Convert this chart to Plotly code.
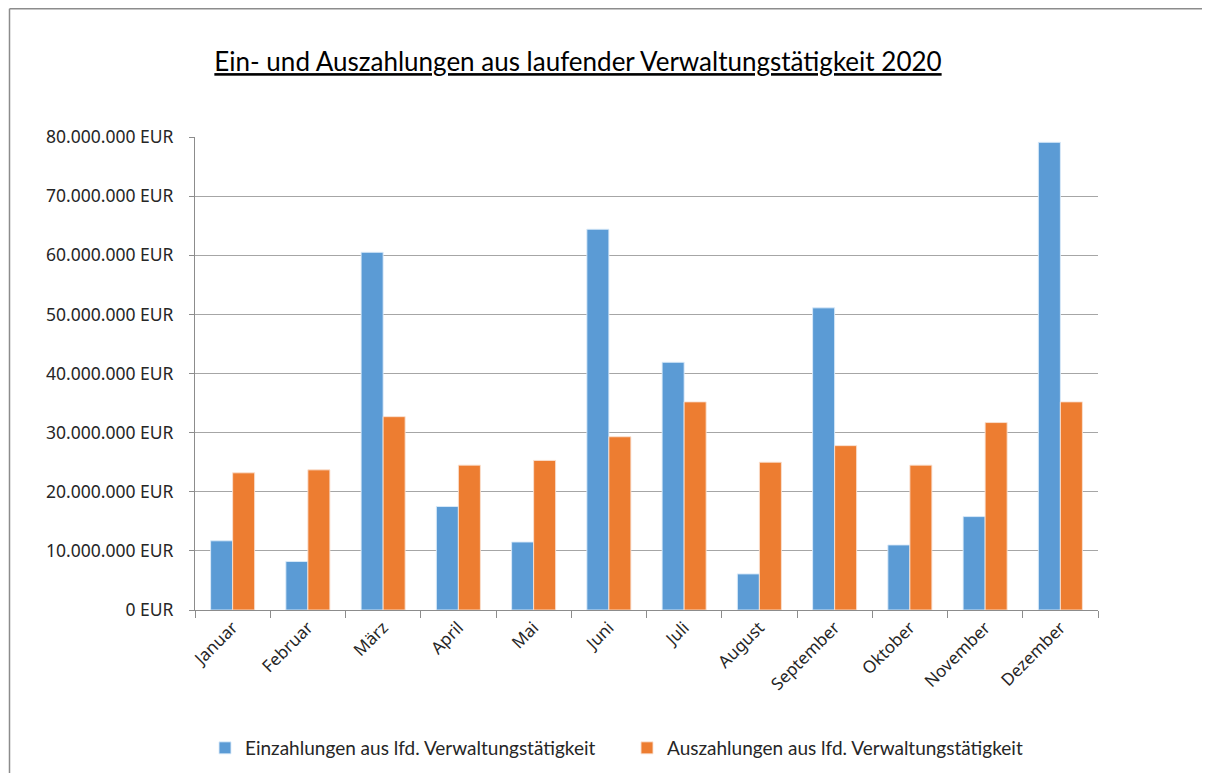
import plotly.graph_objects as go

months = ["Januar", "Februar", "März", "April", "Mai", "Juni", "Juli",
          "August", "September", "Oktober", "November", "Dezember"]
einzahlungen = [11.7e6, 8.2e6, 60.5e6, 17.5e6, 11.5e6, 64.4e6, 41.9e6,
                6.1e6, 51.1e6, 11.0e6, 15.8e6, 79.1e6]
auszahlungen = [23.2e6, 23.7e6, 32.7e6, 24.5e6, 25.3e6, 29.3e6, 35.2e6,
                25.0e6, 27.8e6, 24.5e6, 31.7e6, 35.2e6]
name_ein = "Einzahlungen aus lfd. Verwaltungstätigkeit"
name_aus = "Auszahlungen aus lfd. Verwaltungstätigkeit"
title_text = "Ein- und Auszahlungen aus laufender Verwaltungstätigkeit 2020"

OFF = 8  # page body margin
SW, SH = 1210, 773
W, H = SW - OFF, SH - OFF
L, T = 195 - OFF, 137 - OFF
R, B = W - (1098 - OFF), H - (610 - OFF)
pw, ph = W - L - R, H - T - B

fig = go.Figure()
fig.add_trace(go.Bar(x=months, y=einzahlungen, name=name_ein,
                     marker=dict(color="#5B9BD5", line=dict(color="rgba(220,235,250,0.9)", width=1))))
fig.add_trace(go.Bar(x=months, y=auszahlungen, name=name_aus,
                     marker=dict(color="#ED7D31", line=dict(color="rgba(250,225,210,0.9)", width=1))))

def px_x(x):  # screen px -> paper
    return (x - OFF - L) / pw

def px_y(y):
    return (H - B - (y - OFF)) / ph

fig.update_layout(
    width=W, height=H,
    margin=dict(l=L, r=R, t=T, b=B, autoexpand=False),
    paper_bgcolor="white", plot_bgcolor="white",
    barmode="group", bargap=0.415, bargroupgap=0,
    title=dict(text="<u>" + title_text + "</u>", x=(578 - OFF) / W, y=1 - (62 - OFF) / H,
               xref="container", yref="container", xanchor="center", yanchor="middle",
               font=dict(family="Lato, sans-serif", size=26, color="#000000")),
    legend=dict(orientation="h", xref="container", yref="container",
                x=(627 - OFF) / W, y=1 - (748 - OFF) / H, xanchor="center", yanchor="middle",
                font=dict(family="Lato, sans-serif", size=19, color="#262626"),
                entrywidth=377, itemwidth=30, traceorder="normal"),
    xaxis=dict(type="category", showline=True, linecolor="#8c8c8c", linewidth=1, automargin=False,
               ticks="outside", tickson="boundaries", ticklen=7, tickcolor="#8c8c8c",
               tickangle=-45, showgrid=False,
               tickfont=dict(family="'Noto Sans', sans-serif", size=17, color="#262626")),
    yaxis=dict(range=[0, 80e6], dtick=10e6, tick0=0, tickformat=",d", ticksuffix=" EUR",
               showline=True, linecolor="#8c8c8c", linewidth=1, automargin=False,
               ticks="outside", ticklen=5, tickcolor="#8c8c8c", ticklabelstandoff=12,
               showgrid=True, gridcolor="#a6a6a6", gridwidth=1, zeroline=False,
               tickfont=dict(family="'Noto Sans', sans-serif", size=17.5, color="#262626")),
    separators=",.",
    shapes=[
        dict(type="line", xref="paper", yref="paper", x0=px_x(9.5), x1=px_x(SW + 10), y0=px_y(8.8), y1=px_y(8.8),
             line=dict(color="#8c8c8c", width=1.5)),
        dict(type="line", xref="paper", yref="paper", x0=px_x(9.5), x1=px_x(9.5), y0=px_y(8.8), y1=px_y(SH + 10),
             line=dict(color="#8c8c8c", width=1.5)),
    ],
)

fig.write_html("out.html")
